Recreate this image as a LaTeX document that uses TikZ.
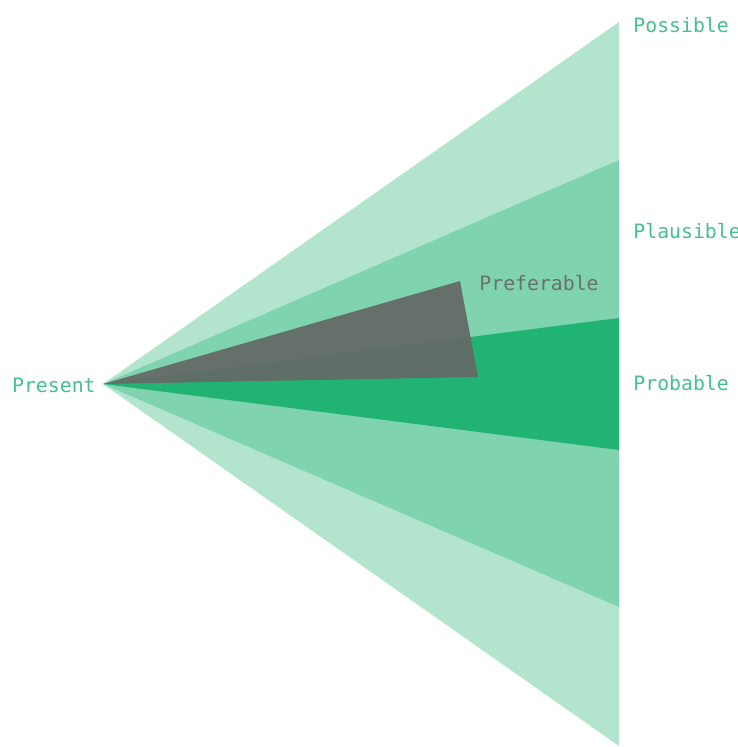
\documentclass[tikz,border=0pt]{standalone}
\usepackage{fontspec}
\setmonofont{DejaVu Sans Mono}
\usepackage{xcolor}
\usepackage{tikz}
\usetikzlibrary{positioning,calc}
\definecolor{coneGreen}{HTML}{21B373}
\definecolor{labelGreen}{HTML}{45C08D}
\definecolor{prefGray}{HTML}{636B67}
\definecolor{prefText}{HTML}{6A706C}
\tikzset{
  conelabel/.style={anchor=west, inner sep=0pt, text=labelGreen, font=\ttfamily\fontsize{9.9}{11}\selectfont},
  softcone/.style={fill=coneGreen, fill opacity=0.35},
}
\begin{document}
\begin{tikzpicture}[x=0.5pt, y=-0.5pt]
\useasboundingbox (0,0) rectangle (737,747);
\begin{scope}
\clip (0,0) rectangle (737,747);
% ---------- the present, apex of the cones ----------
\coordinate (present) at (103,384);
% ---------- possible : outer cone ----------
\fill[softcone] (present) -- (619,22) -- (619,746) -- cycle;
% ---------- plausible : middle cone ----------
\fill[softcone] (present) -- (619,160) -- (619,607) -- cycle;
% ---------- probable : inner cone ----------
\fill[coneGreen] (present) -- (619,318) -- (619,450) -- cycle;
% ---------- preferable : grey wedge ----------
\fill[prefGray, fill opacity=0.95] (present) -- (460,281) -- (478,377) -- cycle;
% ---------- labels ----------
\node[conelabel, anchor=east] (presentlbl) at (96,385) {Present};
\node[conelabel] (possiblelbl) at (633,25) {Possible};
\node[conelabel] (plausiblelbl) at (633,231) {Plausible};
\node[conelabel] (probablelbl) at (633,383) {Probable};
\node[conelabel, text=prefText] (preferablelbl) at (479,283) {Preferable};
\end{scope}
\end{tikzpicture}
\end{document}
